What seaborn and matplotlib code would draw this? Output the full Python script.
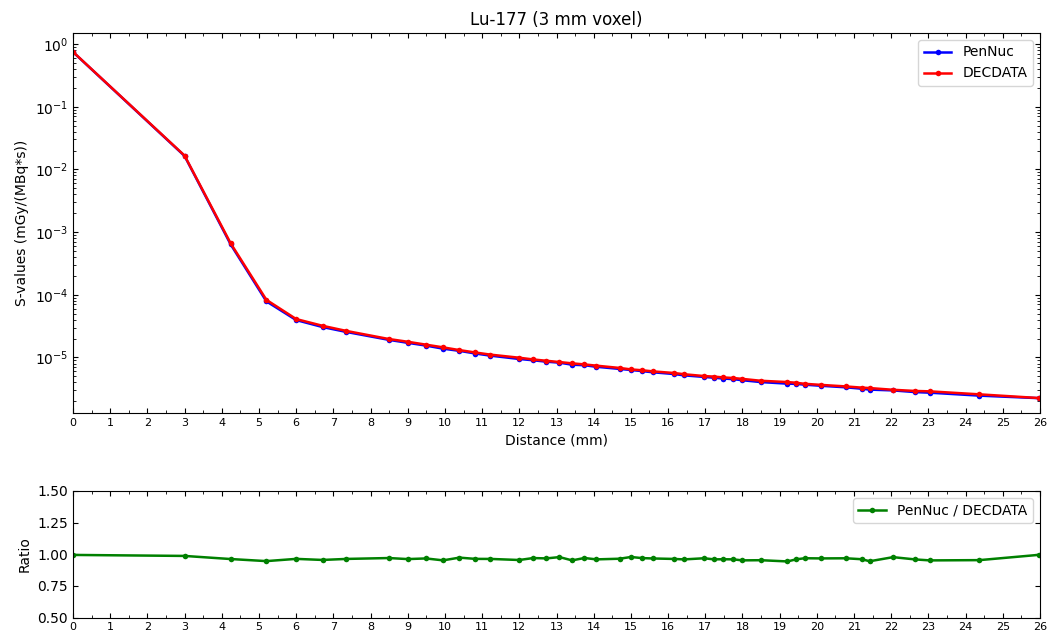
import numpy as np
import pandas as pd
import matplotlib
matplotlib.use("Agg")
import matplotlib.pyplot as plt
import seaborn as sns
from matplotlib.ticker import MultipleLocator

distance = [0.0, 3.0, 4.24, 5.20, 6.0, 6.71, 7.35, 8.49, 9.0, 9.49, 9.95, 10.39,
            10.82, 11.22, 12.0, 12.37, 12.73, 13.08, 13.42, 13.75, 14.07, 14.70,
            15.0, 15.30, 15.59, 16.16, 16.43, 16.97, 17.23, 17.49, 17.75, 18.0,
            18.49, 19.21, 19.44, 19.67, 20.12, 20.78, 21.21, 21.42, 22.05, 22.65,
            23.04, 24.37, 25.98]

decdata = [0.75, 0.0166, 6.6e-4, 8.3e-5, 4.1e-5, 3.2e-5, 2.65e-5, 1.97e-5, 1.78e-5,
           1.6e-5, 1.45e-5, 1.31e-5, 1.2e-5, 1.11e-5, 9.9e-6, 9.3e-6, 8.85e-6,
           8.45e-6, 8.05e-6, 7.75e-6, 7.4e-6, 6.8e-6, 6.45e-6, 6.25e-6, 6.0e-6,
           5.65e-6, 5.4e-6, 5.05e-6, 4.95e-6, 4.8e-6, 4.7e-6, 4.55e-6, 4.25e-6,
           4.05e-6, 3.95e-6, 3.8e-6, 3.65e-6, 3.45e-6, 3.3e-6, 3.25e-6, 3.05e-6,
           2.92e-6, 2.88e-6, 2.58e-6, 2.25e-6]

pennuc = [0.746, 0.01638, 6.35e-4, 7.85e-5, 3.95e-5, 3.056e-5, 2.552e-5, 1.911e-5,
          1.712e-5, 1.547e-5, 1.380e-5, 1.275e-5, 1.156e-5, 1.069e-5, 9.45e-6,
          9.02e-6, 8.56e-6, 8.26e-6, 7.66e-6, 7.52e-6, 7.10e-6, 6.56e-6, 6.31e-6,
          6.06e-6, 5.80e-6, 5.44e-6, 5.18e-6, 4.89e-6, 4.75e-6, 4.61e-6, 4.51e-6,
          4.33e-6, 4.05e-6, 3.82e-6, 3.79e-6, 3.68e-6, 3.53e-6, 3.34e-6, 3.17e-6,
          3.07e-6, 2.98e-6, 2.80e-6, 2.74e-6, 2.46e-6, 2.24e-6]

ratio = list(np.array(pennuc) / np.array(decdata))

x_ticks = list(range(0, 27))

fig = plt.figure(figsize=(10.52, 6.37), dpi=100)
ax1 = fig.add_axes([73/1052, 1-413/637, (1040-73)/1052, (413-33)/637])
ax2 = fig.add_axes([73/1052, 1-617.5/637, (1040-73)/1052, (617.5-491)/637])

sns.lineplot(x=distance, y=pennuc, ax=ax1, color="blue", marker="o", markersize=4,
             markeredgewidth=0, linewidth=1.8, label="PenNuc")
sns.lineplot(x=distance, y=decdata, ax=ax1, color="red", marker="o", markersize=4,
             markeredgewidth=0, linewidth=1.8, label="DECDATA")
ax1.set_yscale("log")
ax1.set_xlim(0, 26)
ax1.set_ylim(1.3e-6, 1.5)
ax1.set_xticks(x_ticks)
ax1.xaxis.set_minor_locator(MultipleLocator(0.5))
ax1.set_title("Lu-177 (3 mm voxel)", fontsize=12)
ax1.set_xlabel("Distance (mm)", fontsize=10)
ax1.set_ylabel("S-values (mGy/(MBq*s))", fontsize=10)
ax1.legend(loc="upper right", fontsize=10)

sns.lineplot(x=distance, y=ratio, ax=ax2, color="green", marker="o", markersize=4,
             markeredgewidth=0, linewidth=1.8, label="PenNuc / DECDATA")
ax2.set_xlim(0, 26)
ax2.set_ylim(0.5, 1.5)
ax2.set_xticks(x_ticks)
ax2.set_yticks([0.5, 0.75, 1.0, 1.25, 1.5])
ax2.xaxis.set_minor_locator(MultipleLocator(0.5))
ax2.set_ylabel("Ratio", fontsize=10)
ax2.set_xlabel("")
ax2.legend(loc="upper right", fontsize=10)

for ax in (ax1, ax2):
    ax.tick_params(which="both", direction="in", top=True, right=True)
    ax.tick_params(axis="x", which="major", labelsize=8)
    ax.tick_params(axis="y", which="major", labelsize=10)

fig.savefig("out.png", dpi=100)
